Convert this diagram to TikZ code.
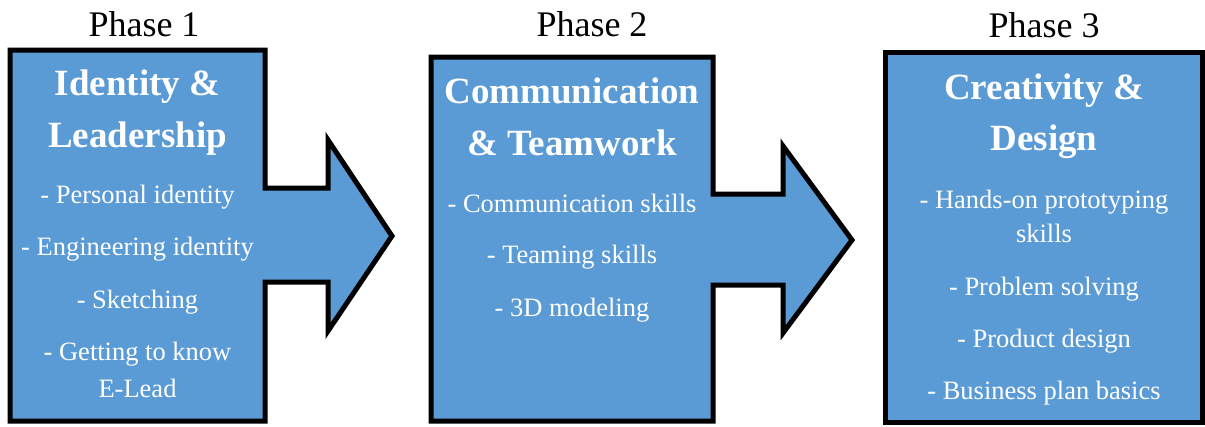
\documentclass[tikz,border=0pt]{standalone}
\usepackage{fontspec}
\setmainfont{Liberation Serif}
\definecolor{phaseblue}{HTML}{5B9BD5}
\tikzset{
  shapebox/.style={draw=black, fill=phaseblue, line width=5pt, line join=miter},
  phaselbl/.style={anchor=base, inner sep=0pt, font=\fontsize{36}{40}\selectfont, text=black},
  titlelbl/.style={anchor=base, inner sep=0pt, font=\fontsize{37}{42}\selectfont\bfseries, text=white},
  itemlbl/.style={anchor=base, inner sep=0pt, font=\fontsize{26.5}{30}\selectfont, text=white}
}
\begin{document}
\begin{tikzpicture}[x=1pt,y=-1pt]
\useasboundingbox (0,0) rectangle (1205,426);
% shapes
\draw[shapebox] (10,50) -- (265,50) -- (265,188) -- (328,188) -- (328,140) -- (392,236) -- (328,331) -- (328,282) -- (265,282) -- (265,421) -- (10,421) -- cycle;
\draw[shapebox] (431,57) -- (713,57) -- (713,194) -- (783,194) -- (783,146) -- (852,240) -- (783,333) -- (783,285) -- (713,285) -- (713,421) -- (431,421) -- cycle;
\draw[shapebox] (885,52) rectangle (1202,422);
% phase labels
\node[phaselbl] (p1) at (144,36) {Phase 1};
\node[phaselbl] (p2) at (592,36) {Phase 2};
\node[phaselbl] (p3) at (1044,37) {Phase 3};
% phase 1 text
\node[titlelbl] (t1a) at (137.5,95) {Identity \&};
\node[titlelbl] (t1b) at (137.5,147) {Leadership};
\node[itemlbl] (i1a) at (137.5,203) {- Personal identity};
\node[itemlbl] (i1b) at (137.5,255) {- Engineering identity};
\node[itemlbl] (i1c) at (137.5,308) {- Sketching};
\node[itemlbl] (i1d) at (137.5,360) {- Getting to know};
\node[itemlbl] (i1e) at (137.5,397) {E-Lead};
% phase 2 text
\node[titlelbl] (t2a) at (572,103) {Communication};
\node[titlelbl] (t2b) at (572,155) {\& Teamwork};
\node[itemlbl] (i2a) at (572,212) {- Communication skills};
\node[itemlbl] (i2b) at (572,263) {- Teaming skills};
\node[itemlbl] (i2c) at (572,316) {- 3D modeling};
% phase 3 text
\node[titlelbl] (t3a) at (1044,99) {Creativity \&};
\node[titlelbl] (t3b) at (1044,150) {Design};
\node[itemlbl] (i3a) at (1044,208) {- Hands-on prototyping};
\node[itemlbl] (i3b) at (1044,242) {skills};
\node[itemlbl] (i3c) at (1044,295) {- Problem solving};
\node[itemlbl] (i3d) at (1044,347) {- Product design};
\node[itemlbl] (i3e) at (1044,399) {- Business plan basics};
\end{tikzpicture}
\end{document}
